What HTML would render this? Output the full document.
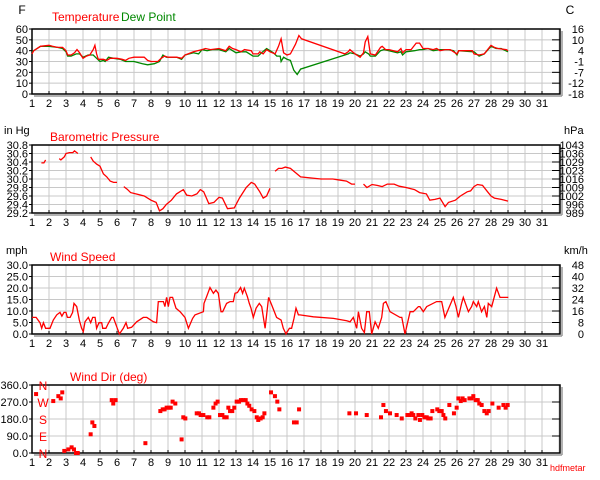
<!DOCTYPE html>
<html><head><meta charset="utf-8"><style>
html,body{margin:0;padding:0;background:#fff;}
svg{display:block;font-family:"Liberation Sans",Arial,sans-serif;}
</style></head><body>
<svg id="c" width="600" height="480" xmlns="http://www.w3.org/2000/svg"></svg>
<script>
// ---- data ----
const tempDays=[1,1.1,1.5,2,2.2,2.5,2.8,3,3.1,3.3,3.5,3.65,3.8,4,4.2,4.4,4.6,4.7,4.8,4.9,5.2,5.4,5.6,6,6.3,6.5,6.7,7,7.6,7.8,8,8.4,8.6,8.8,9,9.5,9.8,10,10.5,11,11.2,11.5,12,12.4,12.6,12.8,13,13.3,13.5,13.9,14,14.3,14.4,14.6,14.8,15,15.3,15.5,15.65,15.8,16,16.2,16.5,16.7,16.85,19.4,19.6,19.7,20,20.3,20.5,20.6,20.75,20.9,21.2,21.5,21.6,21.8,22,22.5,22.7,22.8,23,23.3,23.6,23.8,24,24.3,24.6,24.8,25,25.3,25.6,25.8,26,26.1,26.9,27,27.3,27.6,28,28.2,28.4,28.9,29];
const tempVals=[37,40,44,45,44,43,43,40,36,36,38,41,38,33,35,36,41,45,37,32,32,31,33,33,32,31,33,34,34,31,30,30,33,35,34,34,33,36,39,41,42,41,42,40,44,42,41,39,41,40,37,37,39,37,41,39,37,44,51,38,36,37,46,54,51,37,39,41,37,34,38,48,53,37,36,43,44,41,41,39,42,38,41,41,47,47,42,42,41,42,40,41,41,39,37,40,40,37,36,37,45,43,42,41,40];
const dewDays=[1,1.3,1.5,2,2.5,2.8,3,3.1,3.3,3.6,3.8,4,4.3,4.6,4.8,5,5.2,5.3,5.5,5.8,6.2,6.5,7,7.5,7.8,8.2,8.5,8.7,8.9,9.5,9.8,10,10.5,10.8,11,11.3,11.6,12,12.4,12.6,12.8,13,13.3,13.6,14,14.3,14.5,14.8,15,15.2,15.4,15.6,15.65,15.8,16,16.2,16.4,16.6,16.8,19.4,19.6,19.7,20,20.3,20.5,20.6,20.8,20.9,21.2,21.5,21.7,22,22.5,22.7,22.8,23,23.5,23.8,24,24.3,24.6,25,25.5,25.8,26,26.1,27,27.3,27.6,28,28.3,28.6,29];
const dewVals=[39,42,44,44,43,42,39,35,35,37,37,34,36,36,33,30,31,30,34,33,32,30,30,28,27,28,30,36,34,34,32,36,38,37,41,40,41,41,39,42,40,38,39,39,35,35,38,42,40,38,35,35,30,34,32,31,22,18,23,36,37,38,37,35,37,39,37,35,35,40,41,40,38,39,36,39,40,41,41,42,40,41,41,40,36,40,39,35,37,44,42,42,39];
const presDays=[1.55,1.7,1.8,null,2.6,2.7,2.9,3.0,3.2,3.4,3.5,3.7,null,4.45,4.6,4.8,5.0,5.2,5.4,5.6,5.8,6.0,null,6.4,6.6,6.8,7.2,7.6,8.0,8.3,8.5,8.7,8.9,9.2,9.5,9.9,10.1,10.4,10.7,10.9,11.1,11.4,11.7,12,12.2,12.5,12.9,13.2,13.6,13.9,14.1,14.4,14.6,14.8,15,null,15.3,15.5,15.7,15.9,16.2,16.5,16.8,17.5,18,18.7,19,19.5,19.8,20,null,20.5,20.7,21,21.3,21.6,21.9,22.3,22.6,23,23.5,23.8,24.2,24.4,24.7,25,25.3,25.5,25.9,26.2,26.6,26.8,27,27.2,27.5,27.8,28,28.2,28.6,29];
const presVals=[30.38,30.38,30.45,null,30.48,30.45,30.52,30.6,30.62,30.62,30.66,30.6,null,30.52,30.42,30.35,30.3,30.12,30.05,29.95,29.92,29.92,null,29.82,29.76,29.68,29.64,29.6,29.5,29.45,29.25,29.3,29.4,29.5,29.65,29.75,29.62,29.6,29.65,29.75,29.7,29.42,29.45,29.57,29.55,29.3,29.32,29.55,29.8,29.92,29.88,29.7,29.55,29.6,29.78,null,30.18,30.25,30.25,30.28,30.25,30.15,30.05,30.02,30.0,30.0,29.98,29.95,29.88,29.88,null,29.88,29.8,29.87,29.85,29.82,29.88,29.88,29.83,29.8,29.75,29.68,29.65,29.5,29.52,29.55,29.35,29.45,29.5,29.6,29.7,29.72,29.82,29.87,29.85,29.7,29.6,29.55,29.52,29.48];
const windDays=[1.00,1.24,1.47,1.57,1.67,1.80,2.06,2.25,2.45,2.65,2.76,2.88,3.00,3.08,3.24,3.39,3.47,3.63,3.78,3.92,4.02,4.12,4.31,4.45,4.57,4.71,4.80,4.94,5.10,5.16,5.35,5.49,5.69,5.78,6.02,6.14,6.37,6.53,6.63,6.86,7.16,7.55,7.75,8.14,8.33,8.43,8.73,8.82,8.92,9.02,9.12,9.27,9.47,9.71,10.00,10.20,10.45,10.59,11.08,11.12,11.27,11.47,11.67,11.82,11.96,12.12,12.22,12.45,12.65,12.84,12.94,13.08,13.27,13.39,13.49,13.67,13.78,13.88,14.02,14.18,14.37,14.51,14.71,14.92,15.10,15.39,15.65,15.78,15.94,16.14,16.27,16.41,16.53,16.67,16.76,17.55,18.73,19.51,19.71,19.90,20.10,20.20,20.39,20.55,20.69,20.84,20.98,21.18,21.37,21.57,21.67,21.82,22.06,22.65,22.75,22.94,23.24,23.43,23.73,23.82,24.02,24.22,24.80,25.10,25.29,25.78,25.94,26.08,26.27,26.37,26.67,26.86,26.96,27.16,27.25,27.45,27.61,27.75,27.84,28.04,28.33,28.53,28.82,29.02];
const windVals=[7.2,7.2,4.9,2.5,4.9,2.5,2.5,6.1,8.3,9.4,7.8,9.4,9.4,7.2,7.2,9.4,13.3,11.9,6.1,2.5,1.0,5.3,7.2,4.9,7.2,7.2,2.5,4.9,4.9,2.5,2.5,4.6,7.2,7.2,2.5,0,2.5,4.9,2.5,2.9,5.3,7.2,7.2,5.3,4.9,14.1,14.1,11.9,15.9,11.9,15.9,15.9,11.2,9.7,7.2,2.5,6.8,8.3,9.7,13.3,16.2,20.2,17.7,19.1,17.7,9.7,9.7,13.3,14.1,14.1,17.7,18.0,20.2,17.7,19.9,16.2,13.3,11.2,7.2,11.2,13.3,11.9,2.5,15.9,12.6,7.2,6.1,2.5,0,2.5,2.5,6.8,11.2,8.3,8.3,7.5,6.8,5.8,5.3,7.2,2.5,9.7,2.5,0.6,9.7,9.7,0,5.3,2.5,7.2,13.3,14.1,9.7,7.2,7.2,0,9.7,9.7,11.9,11.9,9.7,11.9,14.1,14.1,7.2,15.9,11.9,7.2,13.3,15.9,9.7,11.9,14.1,11.9,14.1,9.7,11.9,7.2,13.3,11.9,19.9,15.9,15.9,15.9,18.4];
const dirDays=[1.24,2.25,2.55,2.69,2.78,2.90,3.14,3.33,3.47,3.59,3.69,4.45,4.55,4.67,5.69,5.78,5.92,7.67,8.55,8.69,8.80,8.92,9.04,9.16,9.27,9.43,9.80,9.90,10.02,10.69,10.82,10.92,11.08,11.31,11.43,11.67,11.80,11.92,12.06,12.20,12.31,12.45,12.55,12.65,12.78,12.90,13.04,13.18,13.29,13.43,13.57,13.67,13.78,13.92,14.08,14.22,14.31,14.45,14.57,14.67,15.06,15.29,15.43,15.55,16.41,16.57,16.71,19.67,20.06,20.69,21.53,21.67,21.82,22.06,22.45,22.75,23.08,23.20,23.33,23.43,23.55,23.73,23.82,23.96,24.08,24.22,24.31,24.45,24.55,24.84,24.96,25.10,25.20,25.31,25.55,25.82,25.98,26.08,26.22,26.33,26.45,26.73,26.86,26.96,27.10,27.22,27.31,27.45,27.61,27.75,27.86,28.08,28.45,28.73,28.86,28.98];
const dirVals=[312,275,301,289,321,11,19,30,19,0,0,99,162,143,280,262,280,52,222,231,231,240,240,240,272,262,72,189,183,210,210,201,201,189,189,240,262,272,201,201,189,189,240,222,222,240,272,272,280,280,280,262,250,231,222,189,175,183,189,210,321,301,272,231,162,162,231,210,210,201,189,254,222,210,201,183,201,201,210,201,183,201,175,201,189,189,183,183,222,231,222,222,201,183,254,210,240,289,275,289,280,289,289,301,280,280,262,254,222,210,222,262,240,254,240,254];
const dayTicks=[1,2,3,4,5,6,7,8,9,10,11,12,13,14,15,16,17,18,19,20,21,22,23,24,25,26,27,28,29,30,31];
const tempTicksF=['60','50','40','30','20','10','0'];
const tempTicksC=['16','10','4','-1','-7','-12','-18'];
const presTicks=['30.8','30.6','30.4','30.2','30.0','29.8','29.6','29.4','29.2'];
const presTicksH=['1043','1036','1029','1023','1016','1009','1002','996','989'];
const windTicks=['30.0','25.0','20.0','15.0','10.0','5.0','0.0'];
const windTicksK=['48','40','32','24','16','8','0'];
const dirTicks=['360.0','270.0','180.0','90.0','0.0'];
const dirLetters=['N','W','S','E','N'];

// ---- drawing ----
const NS='http://www.w3.org/2000/svg';
const svg=document.getElementById('c');
const X0=32,DX=17,XR=560;
const xDay=d=>X0+DX*(d-1);
function el(tag,attrs,parent){const e=document.createElementNS(NS,tag);for(const k in attrs)e.setAttribute(k,attrs[k]);(parent||svg).appendChild(e);return e;}
function txt(s,x,y,anchor,fill,size,parent){const t=el('text',{x:x,y:y,'text-anchor':anchor,fill:fill,'font-size':size},parent);t.textContent=s;return t;}

function panel(name,top,bot,leftT,rightT,yLab,title,titleX){
  const g=el('g',{});
  
  
  const n=leftT.length-1;
  // vertical grid
  for(let i=1;i<=31;i++){const x=X0+DX*i;const l=el('line',{x1:x,y1:top,x2:x,y2:bot,stroke:'#c8c8c8','stroke-width':1},g);}
  for(let i=1;i<n;i++){const y=top+(bot-top)*i/n;const l=el('line',{x1:X0,y1:y,x2:XR,y2:y,stroke:'#c8c8c8','stroke-width':1},g);}
  const r=el('rect',{x:X0,y:top,width:XR-X0,height:bot-top,fill:'none',stroke:'#000','stroke-width':1.5},g);
  
  el('line',{x1:XR+2,y1:top+2,x2:XR+2,y2:bot+2,stroke:'#999','stroke-width':1.5},g);
  el('line',{x1:X0+2,y1:bot+2,x2:XR+2,y2:bot+2,stroke:'#999','stroke-width':1.5},g);
  for(let i=0;i<=n;i++){
    const y=top+(bot-top)*i/n;
    el('line',{x1:X0-3,y1:y,x2:X0,y2:y,stroke:'#000'},g);
    el('line',{x1:XR-8,y1:y,x2:XR,y2:y,stroke:'#000'},g);
    const t=txt(leftT[i],28,y+4,'end','#000',11,g);
    
    if(rightT){const t2=txt(rightT[i],584,y+4,'end','#000',11,g);
      }
  }
  dayTicks.forEach(d=>{const t=txt(String(d),xDay(d),bot+13,'middle','#000',11,g);
    
    el('line',{x1:xDay(d),y1:bot-3,x2:xDay(d),y2:bot,stroke:'#000'},g);});
  return g;
}
function line(days,vals,yf,color,name){
  let d='',pen=false;
  for(let i=0;i<days.length;i++){
    if(days[i]===null||vals[i]===null){pen=false;continue;}
    d+=(pen?'L':'M')+xDay(days[i]).toFixed(1)+','+yf(vals[i]).toFixed(1);pen=true;
  }
  const p=el('path',{d:d,fill:'none',stroke:color,'stroke-width':1.3});
  
}

// Temperature
const yT=v=>94-v*65/60;
panel('temperature',29,94,tempTicksF,tempTicksC);
line(dewDays,dewVals,yT,'#008800','dew-point-line');
line(tempDays,tempVals,yT,'#ff0000','temperature-line');
let t;
t=txt('F',22,14,'middle','#000',12);
t=txt('C',570,14,'middle','#000',12);
t=txt('Temperature',52,21,'start','#ff0000',12);
t=txt('Dew Point',121,21,'start','#008800',12);

// Pressure
const yP=v=>213-(v-29.2)*68/1.6;
panel('pressure',145,213,presTicks,presTicksH);
line(presDays,presVals,yP,'#ff0000','pressure-line');
t=txt('in Hg',4,134,'start','#000',11);
t=txt('hPa',564,134,'start','#000',11);
t=txt('Barometric Pressure',50,141,'start','#ff0000',12);

// Wind speed
const yW=v=>334-v*69/30;
panel('wind-speed',265,334,windTicks,windTicksK);
line(windDays,windVals,yW,'#ff0000','wind-speed-line');
t=txt('mph',6,254,'start','#000',11);
t=txt('km/h',564,254,'start','#000',11);
t=txt('Wind Speed',50,261,'start','#ff0000',12);

// Wind dir
const yD=v=>453-v*68/360;
panel('wind-dir',385,453,dirTicks,null);
dirLetters.forEach((s,i)=>{const y=385+68*i/4;const l=txt(s,43,y+5,'middle','#ff0000',12);
  });
dirDays.forEach((d,i)=>{const r=el('rect',{x:xDay(d)-2,y:yD(dirVals[i])-2,width:4,height:4,fill:'#ff0000'});
  });
t=txt('Wind Dir (deg)',70,381,'start','#ff0000',12);
t=txt('hdfmetar',550,471,'start','#ff0000',9);
</script>
</body></html>
